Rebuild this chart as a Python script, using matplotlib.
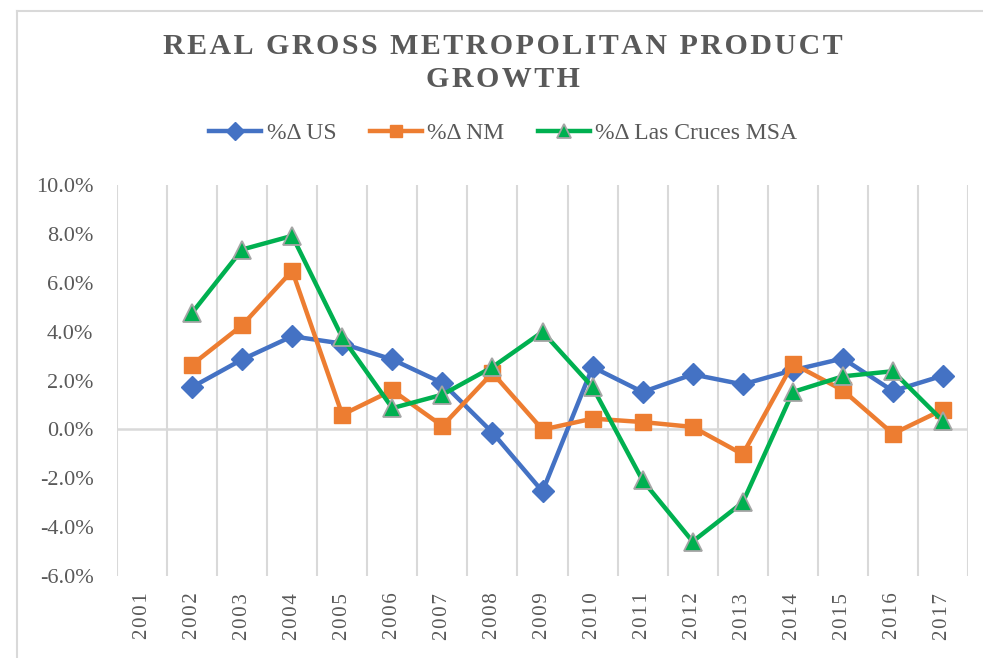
import matplotlib.pyplot as plt
import numpy as np

# Datos (crecimiento real, %)
anos = ['2001', '2002', '2003', '2004', '2005', '2006', '2007', '2008', '2009',
        '2010', '2011', '2012', '2013', '2014', '2015', '2016', '2017']
anos_serie = anos[1:]  # las series empiezan en 2002

us = [1.73, 2.86, 3.81, 3.51, 2.86, 1.90, -0.13, -2.54, 2.55,
      1.53, 2.25, 1.84, 2.42, 2.90, 1.57, 2.20]
nm = [2.65, 4.26, 6.49, 0.60, 1.60, 0.14, 2.31, -0.01, 0.44,
      0.30, 0.10, -1.02, 2.69, 1.60, -0.18, 0.81]
las_cruces = [4.77, 7.36, 7.92, 3.76, 0.87, 1.42, 2.55, 3.99, 1.73,
              -2.09, -4.59, -2.99, 1.53, 2.17, 2.38, 0.34]

y_ticks = [-6, -4, -2, 0, 2, 4, 6, 8, 10]

AZUL = '#4472C4'
NARANJA = '#ED7D31'
VERDE = '#00B050'
GRIS_TEXTO = '#595959'
GRIS_GRID = '#D9D9D9'

HS = '\u200a'  # espacio fino para imitar el espaciado de letras
fuente = ['Liberation Serif', 'DejaVu Serif']
plt.rcParams['font.family'] = fuente

fig = plt.figure(figsize=(9.83, 6.58), dpi=100)
ax = fig.add_axes([117 / 983, 1 - 576 / 658, (968 - 117) / 983, (576 - 185) / 658])

pos = np.arange(len(anos))
pos_serie = pos[1:]

ax.plot(pos_serie, us, color=AZUL, lw=3.2, marker='D', ms=11.5,
        mfc=AZUL, mec=AZUL, label='%Δ US', zorder=3)
ax.plot(pos_serie, nm, color=NARANJA, lw=3.2, marker='s', ms=11.5,
        mfc=NARANJA, mec=NARANJA, label='%Δ NM', zorder=4)
ax.plot(pos_serie, las_cruces, color=VERDE, lw=3.2, marker='^', ms=12.5,
        mfc=VERDE, mec='#A5A5A5', mew=1.3, label='%Δ Las Cruces MSA', zorder=5)

# ejes
ax.set_xlim(-0.5, len(anos) - 0.5)
ax.set_ylim(-6, 10)
for s in ax.spines.values():
    s.set_visible(False)

# líneas verticales entre categorías
for xg in np.arange(-0.5, len(anos), 1.0):
    ax.axvline(xg, color=GRIS_GRID, lw=1.5, zorder=1)
ax.axhline(0, color=GRIS_GRID, lw=1.8, zorder=1)

ax.set_yticks(y_ticks)
ax.set_yticklabels(['%.1f%%' % v for v in y_ticks], color=GRIS_TEXTO, fontsize=16)
ax.set_xticks(pos)
ax.set_xticklabels([HS.join(a) for a in anos], rotation=90, color=GRIS_TEXTO,
                   fontsize=15, va='top')
ax.tick_params(axis='y', length=0, pad=17)
ax.tick_params(axis='x', length=0, pad=12)

# título
titulo = 'REAL GROSS METROPOLITAN PRODUCT\nGROWTH'
titulo = '\n'.join(HS.join(linea) for linea in titulo.split('\n'))
fig.text(0.512, 1 - 63 / 658, titulo, ha='center', va='center', fontsize=21.5,
         fontweight='bold', color=GRIS_TEXTO, linespacing=1.3)

# leyenda
fig.legend(loc='center', bbox_to_anchor=(0.512, 1 - 133 / 658), ncol=3,
           frameon=False, fontsize=17, handlelength=2.2, handletextpad=0.25,
           columnspacing=1.4, numpoints=1, markerscale=0.8, labelcolor=GRIS_TEXTO)

# borde del área del gráfico
fig.add_artist(plt.Line2D([17 / 983, 17 / 983], [0, 1 - 11 / 658],
                          transform=fig.transFigure, color=GRIS_GRID, lw=1.5))
fig.add_artist(plt.Line2D([17 / 983, 1], [1 - 11 / 658, 1 - 11 / 658],
                          transform=fig.transFigure, color=GRIS_GRID, lw=1.5))

fig.savefig('out.png', dpi=100)
